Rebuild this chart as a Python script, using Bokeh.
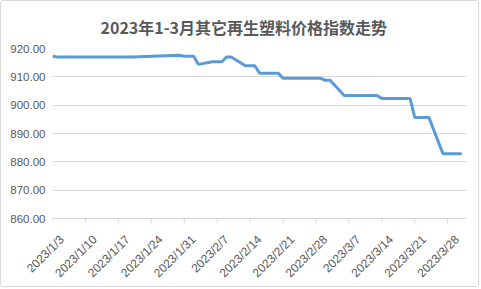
from datetime import datetime
from math import pi
from bokeh.plotting import figure
from bokeh.models import Range1d, FixedTicker, CustomJSTickFormatter, ColumnDataSource
from bokeh.embed import file_html
from bokeh.resources import INLINE

title = "2023年1-3月其它再生塑料价格指数走势"

# change points of the index (line joins them)
dates = ["2023-01-03", "2023-01-04", "2023-01-20", "2023-01-30", "2023-01-31",
         "2023-02-02", "2023-02-03", "2023-02-06", "2023-02-08", "2023-02-09",
         "2023-02-10", "2023-02-13", "2023-02-15", "2023-02-16", "2023-02-20",
         "2023-02-21", "2023-03-01", "2023-03-02", "2023-03-03", "2023-03-06",
         "2023-03-13", "2023-03-14", "2023-03-20", "2023-03-21", "2023-03-24",
         "2023-03-27", "2023-03-31"]
values = [917.3, 917.0, 917.0, 917.6, 917.3,
          917.3, 914.4, 915.3, 915.3, 917.0,
          917.0, 913.9, 913.9, 911.3, 911.3,
          909.5, 909.5, 908.8, 908.8, 903.4,
          903.4, 902.4, 902.4, 895.7, 895.7,
          882.9, 882.9]

tick_dates = ["2023-01-03", "2023-01-10", "2023-01-17", "2023-01-24", "2023-01-31",
              "2023-02-07", "2023-02-14", "2023-02-21", "2023-02-28", "2023-03-07",
              "2023-03-14", "2023-03-21", "2023-03-28"]
y_ticks = [860, 870, 880, 890, 900, 910, 920]

Y_MIN, Y_MAX = 860, 920
PX_PER_UNIT = 2.9           # 10 units = 29 px
TICK_LEN_PX = 5
Y_BOTTOM = Y_MIN - TICK_LEN_PX / PX_PER_UNIT   # room for tick marks below the axis line
DAY_MS = 86400000
LABEL_SHIFT_MS = 2.0 * DAY_MS                 # move rotated labels right of their ticks

def to_dt(s):
    return datetime.strptime(s, "%Y-%m-%d")

def to_ms(s):
    return (to_dt(s) - datetime(1970, 1, 1)).total_seconds() * 1000

src = ColumnDataSource(dict(x=[to_dt(d) for d in dates], y=values))
tick_src = ColumnDataSource(dict(x=[to_dt(d) for d in tick_dates],
                                 y0=[Y_MIN] * len(tick_dates),
                                 y1=[Y_BOTTOM] * len(tick_dates)))

p = figure(width=479, height=287, x_axis_type="datetime",
           output_backend="svg", toolbar_location=None,
           x_range=Range1d(to_dt("2023-01-03"), to_dt("2023-04-01")),
           y_range=Range1d(Y_BOTTOM, Y_MAX),
           min_border_left=51, min_border_right=14,
           min_border_top=47, min_border_bottom=61)
p.styles = {"border": "1px solid #d9d9d9", "border-radius": "3px"}

p.title.text = title
p.title.align = "left"
p.title.offset = 48
p.title.vertical_align = "top"
p.title.standoff = 16
p.title.text_font = "Noto Sans CJK SC"
p.title.text_font_size = "16px"
p.title.text_font_style = "bold"
p.title.text_color = "#595959"

p.outline_line_color = None
p.background_fill_color = "white"
p.border_fill_color = "white"

p.xgrid.grid_line_color = None
p.ygrid.grid_line_color = "#d9d9d9"
p.ygrid.grid_line_width = 1

# tick marks of the date axis
p.segment(x0="x", y0="y0", x1="x", y1="y1", source=tick_src,
          line_color="#d9d9d9", line_width=1)

p.line("x", "y", source=src, line_width=3, line_color="#5b9bd5")

p.yaxis.ticker = FixedTicker(ticks=y_ticks)
p.yaxis.formatter = CustomJSTickFormatter(code="return tick.toFixed(2);")
p.yaxis.axis_line_color = None
p.yaxis.major_tick_line_color = None
p.yaxis.major_tick_in = 0
p.yaxis.major_tick_out = 0
p.yaxis.minor_tick_line_color = None
p.yaxis.major_label_text_font = "Liberation Sans"
p.yaxis.major_label_text_font_size = "11.5px"
p.yaxis.major_label_text_color = "#595959"
p.yaxis.major_label_standoff = 7

p.xaxis.ticker = FixedTicker(ticks=[to_ms(d) + LABEL_SHIFT_MS for d in tick_dates])
p.xaxis.formatter = CustomJSTickFormatter(args=dict(shift=LABEL_SHIFT_MS), code="""
const d = new Date(tick - shift);
return d.getUTCFullYear() + "/" + (d.getUTCMonth() + 1) + "/" + d.getUTCDate();
""")
p.xaxis.axis_line_color = None
p.xaxis.major_tick_line_color = None
p.xaxis.major_tick_in = 0
p.xaxis.major_tick_out = 0
p.xaxis.minor_tick_line_color = None
p.xaxis.major_label_orientation = pi / 4
p.xaxis.major_label_text_font = "Liberation Sans"
p.xaxis.major_label_text_font_size = "12px"
p.xaxis.major_label_text_color = "#595959"
p.xaxis.major_label_standoff = 14

open("out.html", "w").write(file_html(p, INLINE))
